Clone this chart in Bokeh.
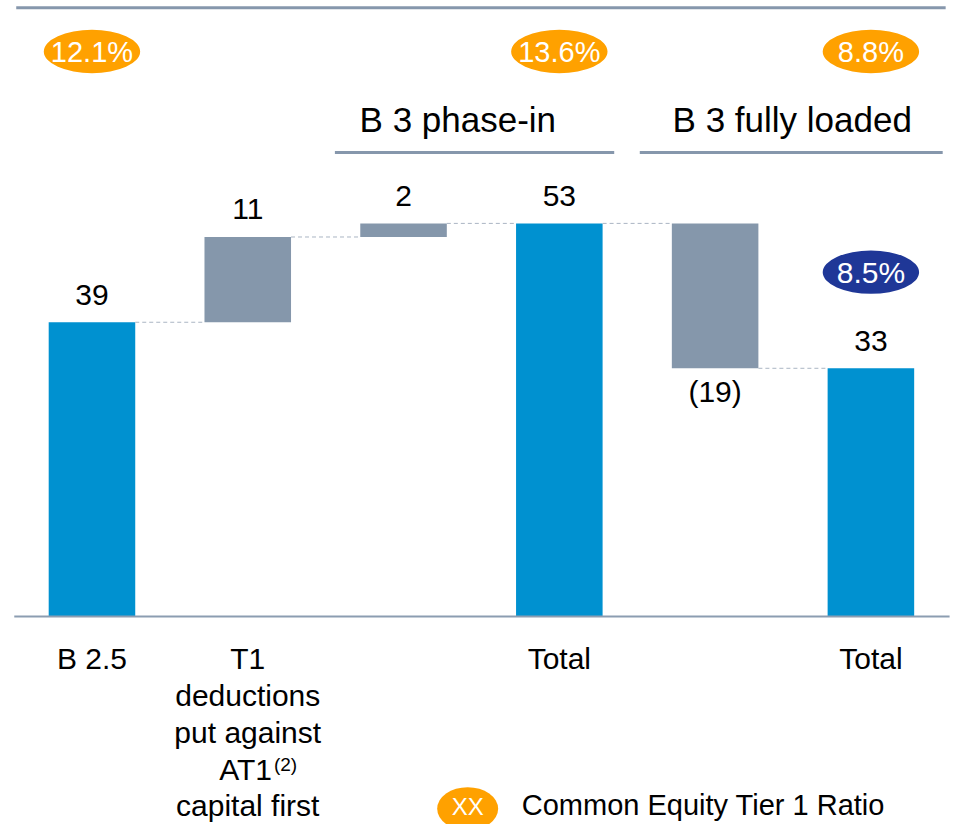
from bokeh.plotting import figure
from bokeh.core.properties import value
from bokeh.embed import file_html
from bokeh.resources import INLINE

# ---------------- data ----------------
step_names = ["B 2.5", "T1 deductions put against AT1 capital first", "Phase-in adjustment",
              "Total B 3 phase-in", "Fully loaded adjustment", "Total B 3 fully loaded"]
category_lines = [["B 2.5"], ["T1", "deductions", "put against", "AT1", "capital first"], [],
                  ["Total"], [], ["Total"]]
footnote_mark = "(2)"
step_values = [39.0, 11.3, 1.8, 52.1, -19.2, 32.9]
is_total = [True, False, False, True, False, True]
value_labels = ["39", "11", "2", "53", "(19)", "33"]
cet1_ratio_idx = [0, 3, 5]
cet1_ratio_text = ["12.1%", "13.6%", "8.8%"]
fully_loaded_ratio_idx = [5]
fully_loaded_ratio_text = ["8.5%"]
group_headers = ["B 3 phase-in", "B 3 fully loaded"]
legend_text = "Common Equity Tier 1 Ratio"
legend_mark = "XX"

# ---------------- styles / layout ----------------
BLUE = "#0091D0"
GREY = "#8597AB"
ORANGE = "#FFA100"
NAVY = "#1F3797"
RULE = "#8697AC"
FONT = value("Liberation Sans")

W, H = 954, 824
REF_W, REF_H = 970, 840
S = W / REF_W
PX_X = 158.4            # reference px per category
PX_Y = 300 / 39         # reference px per unit
X0 = 93                 # reference px of first category centre
Y0 = 628                # reference px of baseline

def rx(px):  # reference px -> data x
    return (px - X0) / PX_X

def ry(px):  # reference px from top -> data y
    return (Y0 - px) / PX_Y

def sc(px):  # reference screen size -> figure screen size
    return px * S

p = figure(width=W, height=H, x_range=(rx(0), rx(REF_W)), y_range=(ry(REF_H), ry(0)),
           output_backend="svg", toolbar_location=None, min_border=0,
           outline_line_color=None, background_fill_color="white",
           border_fill_color="white")
p.axis.visible = False
p.grid.visible = False

# waterfall geometry
bottoms, tops, levels = [], [], []
running = 0.0
for v, t in zip(step_values, is_total):
    if t:
        b, tp = 0.0, v
    else:
        b, tp = running, running + v
    running = tp
    bottoms.append(min(b, tp))
    tops.append(max(b, tp))
    levels.append(running)

xs = list(range(len(step_values)))
bw = 88 / PX_X
colors = [BLUE if t else GREY for t in is_total]
p.quad(left=[x - bw / 2 for x in xs], right=[x + bw / 2 for x in xs],
       bottom=bottoms, top=tops, fill_color=colors, line_color=None)

# connectors
p.segment(x0=[x + bw / 2 for x in xs[:-1]], x1=[x + 1 - bw / 2 for x in xs[:-1]],
          y0=levels[:-1], y1=levels[:-1], line_color="#AAB5C3", line_width=1,
          line_dash="4 3")

# baseline and top rule
p.segment(x0=[rx(14)], x1=[rx(965)], y0=[0], y1=[0], line_color="#8C9DB1", line_width=2)
p.segment(x0=[rx(16)], x1=[rx(961)], y0=[ry(7.5)], y1=[ry(7.5)], line_color=RULE, line_width=3)

# value labels
pos_x = [x for x, v in zip(xs, step_values) if v >= 0]
pos_y = [tp for tp, v in zip(tops, step_values) if v >= 0]
pos_t = [l for l, v in zip(value_labels, step_values) if v >= 0]
p.text(x=pos_x, y=pos_y, text=pos_t, text_align="center", text_baseline="middle",
       y_offset=-sc(28), text_font=FONT, text_font_size="30px", text_color="black")
neg_x = [x for x, v in zip(xs, step_values) if v < 0]
neg_y = [b for b, v in zip(bottoms, step_values) if v < 0]
neg_t = [l for l, v in zip(value_labels, step_values) if v < 0]
p.text(x=neg_x, y=neg_y, text=neg_t, text_align="center", text_baseline="middle",
       y_offset=sc(24), text_font=FONT, text_font_size="30px", text_color="black")

# category labels (line by line)
LINE0, LINE_STEP = 671, 37.5
lx, ly, lt = [], [], []
for x, lines in zip(xs, category_lines):
    for k, line in enumerate(lines):
        if line == "AT1":
            continue
        lx.append(x)
        ly.append(ry(LINE0 + LINE_STEP * k))
        lt.append(line)
p.text(x=lx, y=ly, text=lt, text_align="center", text_baseline="middle",
       text_font=FONT, text_font_size="30px", text_color="black")
p.text(x=[rx(276)], y=[ry(LINE0 + LINE_STEP * 3)], text=["AT1"], text_align="right",
       text_baseline="middle", text_font=FONT, text_font_size="30px", text_color="black")
p.text(x=[rx(278)], y=[ry(LINE0 + LINE_STEP * 3 - 5)], text=[footnote_mark], text_align="left",
       text_baseline="middle", text_font=FONT, text_font_size="19px", text_color="black")

# group headers
p.text(x=[rx(465), rx(805)], y=[ry(121)] * 2, text=group_headers, text_align="center",
       text_baseline="middle", text_font=FONT, text_font_size="35px", text_color="black")
p.segment(x0=[rx(340), rx(650)], x1=[rx(624), rx(958)], y0=[ry(155)] * 2, y1=[ry(155)] * 2,
          line_color=RULE, line_width=3)

# CET1 ratio bubbles
p.ellipse(x=cet1_ratio_idx, y=[ry(52)] * len(cet1_ratio_idx), width=sc(98), height=sc(44),
          width_units="screen", height_units="screen", fill_color=ORANGE, line_color=None)
p.text(x=cet1_ratio_idx, y=[ry(52)] * len(cet1_ratio_idx), text=cet1_ratio_text,
       text_align="center", text_baseline="middle", text_font=FONT,
       text_font_size="29px", text_color="white")
p.ellipse(x=fully_loaded_ratio_idx, y=[ry(277)], width=sc(98), height=sc(44),
          width_units="screen", height_units="screen", fill_color=NAVY, line_color=None)
p.text(x=fully_loaded_ratio_idx, y=[ry(277)], text=fully_loaded_ratio_text,
       text_align="center", text_baseline="middle", text_font=FONT,
       text_font_size="30px", text_color="white")

# legend (kept just inside the bottom edge)
p.ellipse(x=[rx(475)], y=[ry(824)], width=sc(62), height=sc(44), width_units="screen",
          height_units="screen", fill_color=ORANGE, line_color=None)
p.text(x=[rx(475)], y=[ry(822)], text=[legend_mark], text_align="center",
       text_baseline="middle", text_font=FONT, text_font_size="24px", text_color="white")
p.text(x=[rx(530)], y=[ry(820)], text=[legend_text], text_align="left",
       text_baseline="middle", text_font=FONT, text_font_size="29px", text_color="black")

open("out.html", "w").write(file_html(p, INLINE))
